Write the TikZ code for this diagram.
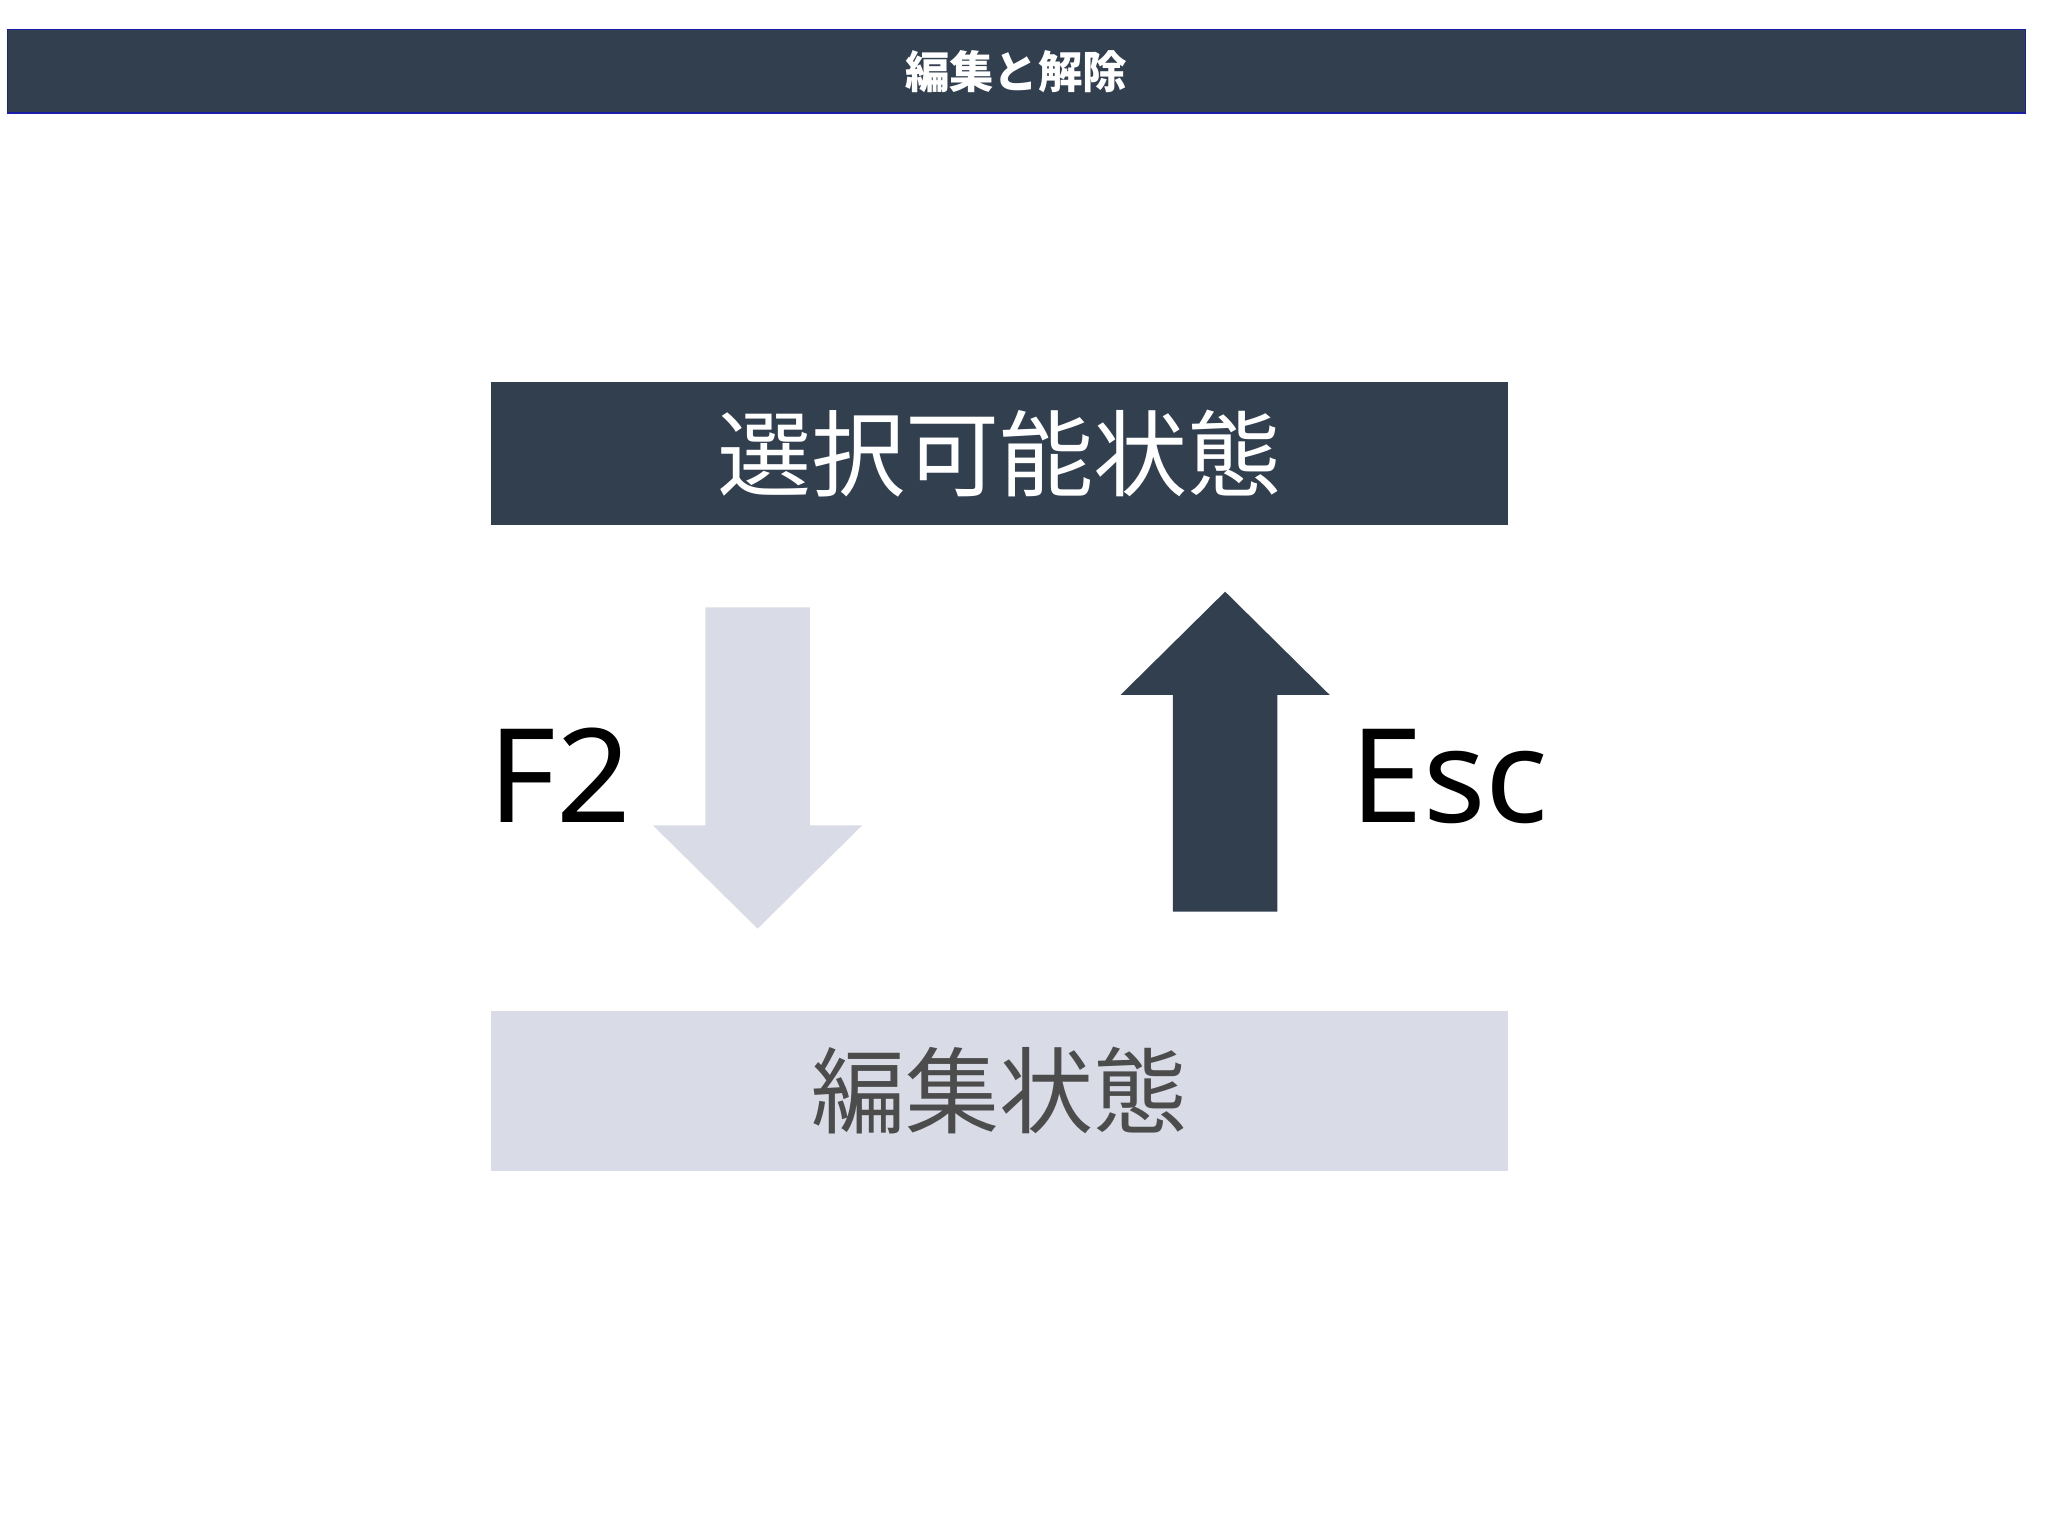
\documentclass[tikz,border=0pt]{standalone}
\usepackage{fontspec}
\setmainfont{Noto Sans CJK JP}
\newfontfamily\cjk{Noto Sans CJK JP}
\newfontfamily\latin{Noto Sans}
\definecolor{dk}{HTML}{323F4F}
\definecolor{lt}{HTML}{D9DCE6}
\begin{document}
\begin{tikzpicture}[x=1pt,y=-1pt,
  box/.style={minimum width=778pt,inner sep=0pt,anchor=north west}]
\useasboundingbox[fill=white] (0,0) rectangle (1568,1176);
\node[box,fill=dk,draw=blue!50!dk,line width=1pt,minimum width=1545pt,minimum height=64pt,text=white,font=\cjk\fontsize{34}{40}\selectfont\bfseries] (title) at (5,22) {編集と解除};
\node[box,fill=dk,minimum height=110pt,text=white,font=\cjk\fontsize{72}{80}\selectfont] (top) at (376,292) {選択可能状態};
\node[box,fill=lt,minimum height=122pt,text=black!70,font=\cjk\fontsize{72}{80}\selectfont] (bot) at (376,774) {編集状態};
\fill[lt] (540,465) -- (620,465) -- (620,632) -- (660,632) -- (580,711) -- (500,632) -- (540,632) -- cycle;
\fill[dk] (898,698) -- (978,698) -- (978,532) -- (1018,532) -- (938,453) -- (858,532) -- (898,532) -- cycle;
\node[anchor=base west,inner sep=0pt,font=\latin\fontsize{100}{110}\selectfont] (f2) at (374,630) {F2};
\node[anchor=base west,inner sep=0pt,font=\latin\fontsize{100}{110}\selectfont] (esc) at (1034,630) {Esc};
\end{tikzpicture}
\end{document}
